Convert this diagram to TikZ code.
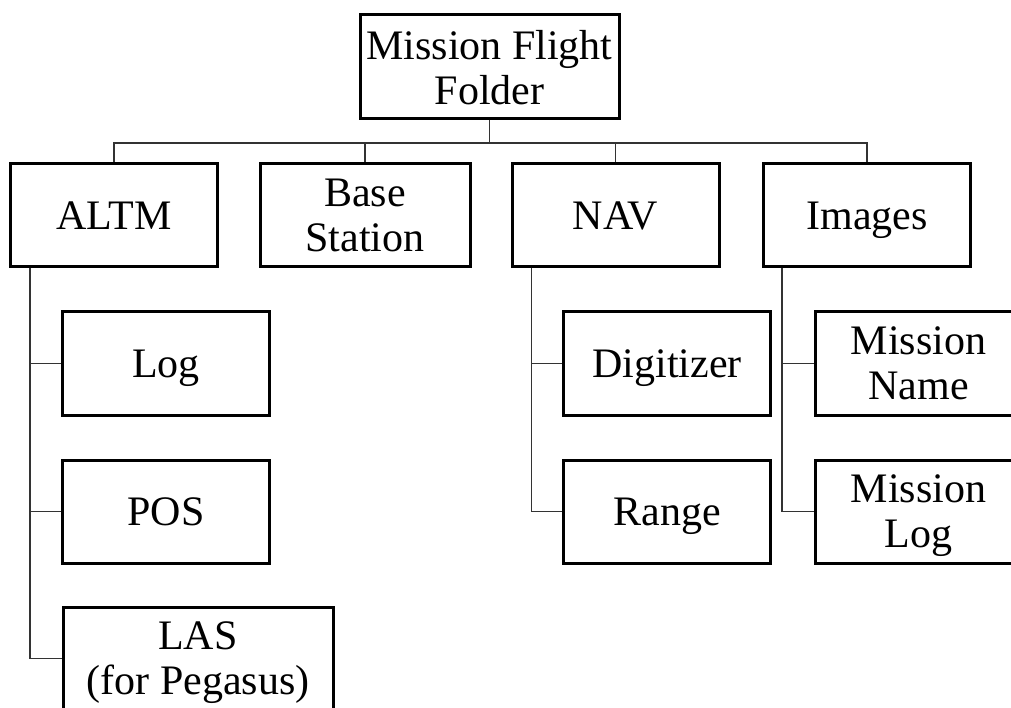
\documentclass[tikz,border=0pt]{standalone}
\usepackage{fontspec}
\setmainfont{Liberation Serif}
\usetikzlibrary{positioning}

\begin{document}
\begin{tikzpicture}[x=1pt,y=-1pt,
    folder/.style={draw, line width=3pt, minimum width=207pt, minimum height=103pt,
        inner sep=0pt, align=center, text depth=0pt, font=\fontsize{42}{45}\selectfont},
    link/.style={line width=1.5pt, black!80}]
    \useasboundingbox (0,0) rectangle (1011,708);
    \clip (0,0) rectangle (1011,708);

    % Top folder
    \node[folder, minimum width=259pt, minimum height=104pt] (root) at (489.5,67) {Mission Flight\\Folder};
    \coordinate (bus) at (0,143);

    % First level
    \node[folder] (altm) at (114,215.5) {ALTM};
    \node[folder, minimum width=210pt] (base) at (365,215.5) {Base\\Station};
    \node[folder] (nav) at (615.5,215.5) {NAV};
    \node[folder] (images) at (867,215.5) {Images};

    \foreach \sub in {altm,base,nav,images} {
        \draw[link] (root.south) -- (root.south |- bus) -| (\sub.north);
    }

    % ALTM contents
    \node[folder] (log) at (166,363.5) {Log};
    \node[folder] (pos) at (166,511.5) {POS};
    \node[folder, minimum width=270pt] (las) at (198,658.5) {LAS\\(for Pegasus)};
    \foreach \sub in {log,pos,las} {
        \draw[link] ([xshift=21pt]altm.south west) |- (\sub.west);
    }

    % NAV contents
    \node[folder] (digitizer) at (667,363.5) {Digitizer};
    \node[folder] (range) at (667,511.5) {Range};
    \foreach \sub in {digitizer,range} {
        \draw[link] ([xshift=21pt]nav.south west) |- (\sub.west);
    }

    % Images contents
    \node[folder] (mname) at (918.5,363.5) {Mission\\Name};
    \node[folder] (mlog) at (918.5,511.5) {Mission\\Log};
    \foreach \sub in {mname,mlog} {
        \draw[link] ([xshift=20pt]images.south west) |- (\sub.west);
    }
\end{tikzpicture}
\end{document}
